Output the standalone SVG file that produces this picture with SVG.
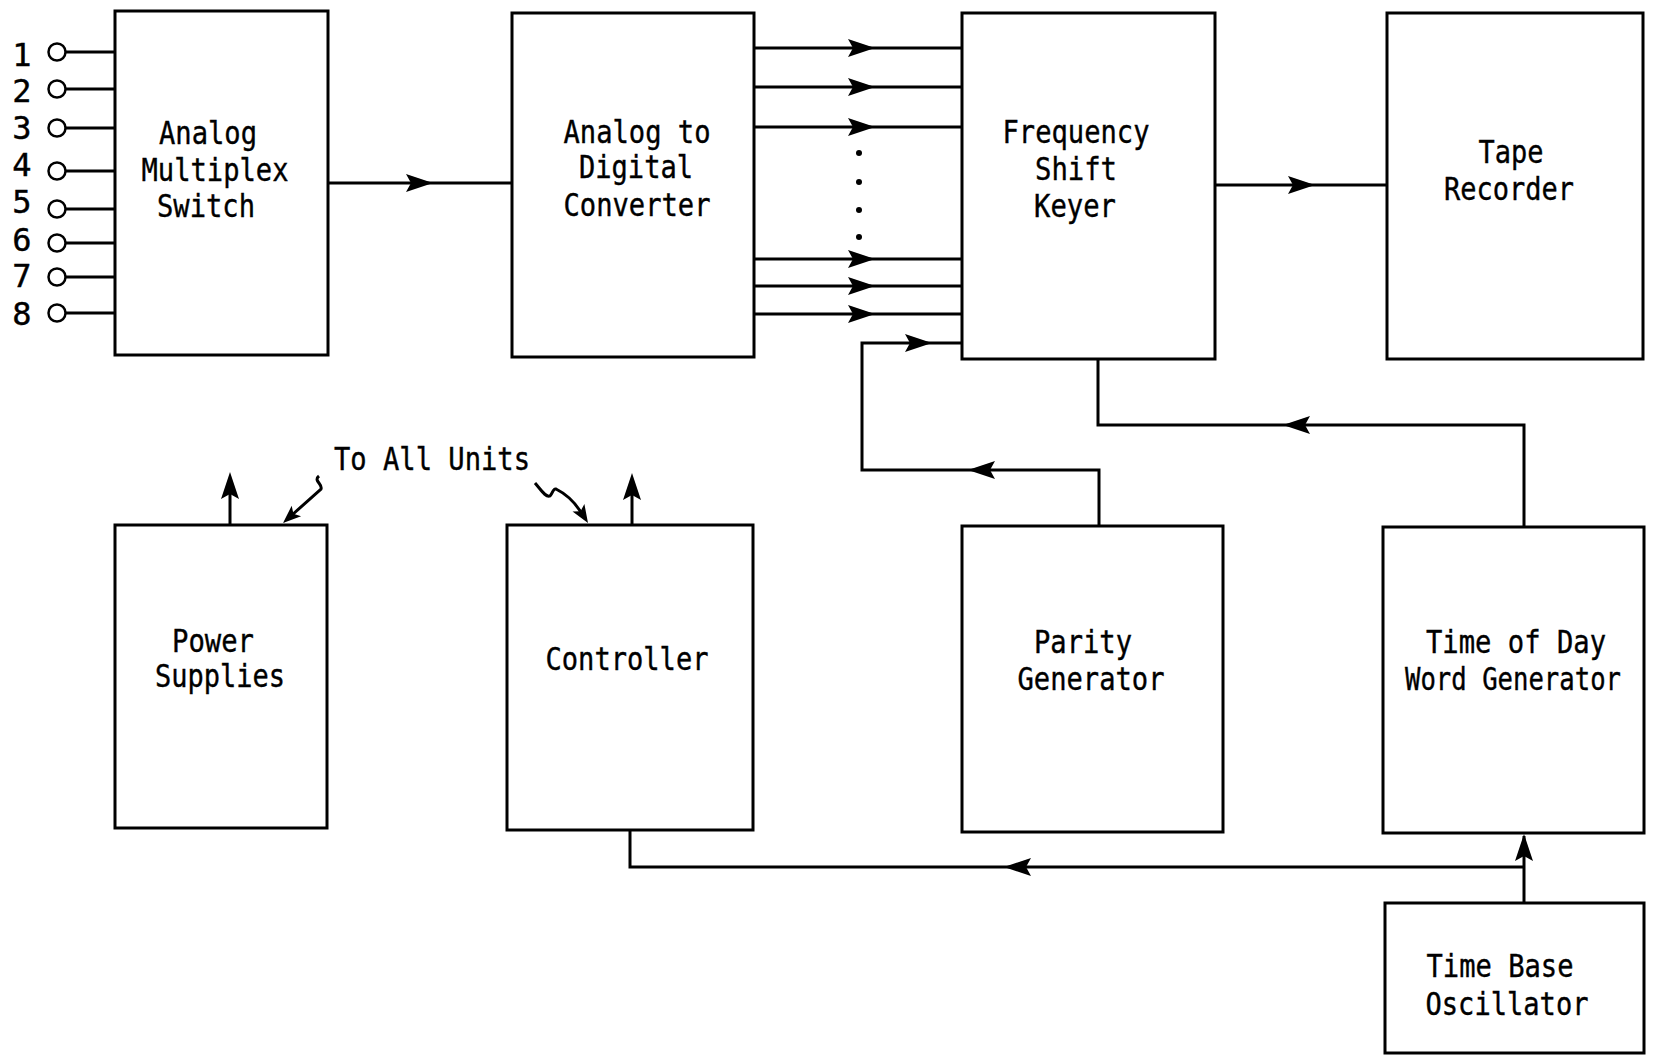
<svg xmlns="http://www.w3.org/2000/svg" xmlns:xlink="http://www.w3.org/1999/xlink" width="1653" height="1056" viewBox="0 0 1653 1056">
<style>
.box{fill:#fff;stroke:#000;stroke-width:3}
.ln{fill:none;stroke:#000;stroke-width:3}
.t{font-family:"DejaVu Sans Mono","Liberation Mono",monospace;font-size:32px;fill:#000;stroke:#000;stroke-width:0.4;text-anchor:middle}
.pin{fill:#fff;stroke:#000;stroke-width:2.5}
</style>
<defs>
<path id="ah" d="M0,0 L-27,-9 L-22,0 L-27,9 Z" fill="#000"/>
<path id="ahs" d="M0,0 L-18,-7 L-14,0 L-18,7 Z" fill="#000"/>
</defs>
<rect width="1653" height="1056" fill="#fff"/>

<g id="connectors">
  <!-- inputs -->
  <path class="ln" d="M65,52H115M65,89H115M65,128H115M65,171H115M65,209H115M65,243H115M65,277H115M65,313H115"/>
  <!-- AMS to ADC -->
  <path class="ln" d="M328,183H512"/>
  <use xlink:href="#ah" transform="translate(433,183)"/>
  <!-- ADC to FSK -->
  <path class="ln" d="M754,48H962M754,87H962M754,127H962M754,259H962M754,286H962M754,314H962"/>
  <use xlink:href="#ah" transform="translate(875,48)"/>
  <use xlink:href="#ah" transform="translate(875,87)"/>
  <use xlink:href="#ah" transform="translate(875,127)"/>
  <use xlink:href="#ah" transform="translate(875,259)"/>
  <use xlink:href="#ah" transform="translate(875,286)"/>
  <use xlink:href="#ah" transform="translate(875,314)"/>
  <circle cx="859" cy="153" r="3"/>
  <circle cx="859" cy="182" r="3"/>
  <circle cx="859" cy="210" r="3"/>
  <circle cx="859" cy="237" r="3"/>
  <!-- parity feedback -->
  <path class="ln" d="M1099,526V470H862V343H962"/>
  <use xlink:href="#ah" transform="translate(932,343)"/>
  <use xlink:href="#ah" transform="translate(968,470) rotate(180)"/>
  <!-- time of day to FSK -->
  <path class="ln" d="M1524,527V425H1098V359"/>
  <use xlink:href="#ah" transform="translate(1283,425) rotate(180)"/>
  <!-- FSK to tape -->
  <path class="ln" d="M1215,185H1387"/>
  <use xlink:href="#ah" transform="translate(1315,185)"/>
  <!-- time base -->
  <path class="ln" d="M1524,903V836"/>
  <use xlink:href="#ah" transform="translate(1524,834) rotate(-90)"/>
  <path class="ln" d="M1524,867H630V830"/>
  <use xlink:href="#ah" transform="translate(1004,867) rotate(180)"/>
  <!-- to all units -->
  <path class="ln" d="M230,525V478"/>
  <use xlink:href="#ah" transform="translate(230,472) rotate(-90)"/>
  <path class="ln" d="M632,525V479"/>
  <use xlink:href="#ah" transform="translate(632,473) rotate(-90)"/>
  <path class="ln" stroke-width="2.5" d="M319,476C313,481 323,484 321,489L292,515"/>
  <use xlink:href="#ahs" transform="translate(283,523) rotate(138)"/>
  <path class="ln" stroke-width="2.5" d="M535,483C541,490 546,498 550,496C553,493 553,488 556,489C566,494 575,502 582,514"/>
  <use xlink:href="#ahs" transform="translate(588,523) rotate(58)"/>
</g>

<g id="inputs">
  <circle class="pin" cx="57" cy="52" r="8.5"/>
  <circle class="pin" cx="57" cy="89" r="8.5"/>
  <circle class="pin" cx="57" cy="128" r="8.5"/>
  <circle class="pin" cx="57" cy="171" r="8.5"/>
  <circle class="pin" cx="57" cy="209" r="8.5"/>
  <circle class="pin" cx="57" cy="243" r="8.5"/>
  <circle class="pin" cx="57" cy="277" r="8.5"/>
  <circle class="pin" cx="57" cy="313" r="8.5"/>
  <text class="t" x="22" y="66">1</text>
  <text class="t" x="22" y="102">2</text>
  <text class="t" x="22" y="139">3</text>
  <text class="t" x="22" y="176">4</text>
  <text class="t" x="22" y="213">5</text>
  <text class="t" x="22" y="251">6</text>
  <text class="t" x="22" y="287">7</text>
  <text class="t" x="22" y="325">8</text>
</g>

<g id="analog-multiplex-switch">
  <rect class="box" x="115" y="11" width="213" height="344"/>
  <text class="t" x="208" y="144" textLength="98" lengthAdjust="spacingAndGlyphs">Analog</text>
  <text class="t" x="215" y="181" textLength="147" lengthAdjust="spacingAndGlyphs">Multiplex</text>
  <text class="t" x="206" y="217" textLength="98" lengthAdjust="spacingAndGlyphs">Switch</text>
</g>

<g id="adc">
  <rect class="box" x="512" y="13" width="242" height="344"/>
  <text class="t" x="637" y="143" textLength="147" lengthAdjust="spacingAndGlyphs">Analog to</text>
  <text class="t" x="636" y="178" textLength="114" lengthAdjust="spacingAndGlyphs">Digital</text>
  <text class="t" x="637" y="216" textLength="147" lengthAdjust="spacingAndGlyphs">Converter</text>
</g>

<g id="fsk">
  <rect class="box" x="962" y="13" width="253" height="346"/>
  <text class="t" x="1076" y="143" textLength="147" lengthAdjust="spacingAndGlyphs">Frequency</text>
  <text class="t" x="1076" y="180" textLength="82" lengthAdjust="spacingAndGlyphs">Shift</text>
  <text class="t" x="1075" y="217" textLength="82" lengthAdjust="spacingAndGlyphs">Keyer</text>
</g>

<g id="tape-recorder">
  <rect class="box" x="1387" y="13" width="256" height="346"/>
  <text class="t" x="1511" y="163" textLength="65" lengthAdjust="spacingAndGlyphs">Tape</text>
  <text class="t" x="1509" y="200" textLength="130" lengthAdjust="spacingAndGlyphs">Recorder</text>
</g>

<g id="to-all-units">
  <text class="t" x="432" y="470" textLength="196" lengthAdjust="spacingAndGlyphs">To All Units</text>
</g>

<g id="power-supplies">
  <rect class="box" x="115" y="525" width="212" height="303"/>
  <text class="t" x="213" y="652" textLength="82" lengthAdjust="spacingAndGlyphs">Power</text>
  <text class="t" x="220" y="687" textLength="130" lengthAdjust="spacingAndGlyphs">Supplies</text>
</g>

<g id="controller">
  <rect class="box" x="507" y="525" width="246" height="305"/>
  <text class="t" x="627" y="670" textLength="163" lengthAdjust="spacingAndGlyphs">Controller</text>
</g>

<g id="parity-generator">
  <rect class="box" x="962" y="526" width="261" height="306"/>
  <text class="t" x="1083" y="653" textLength="98" lengthAdjust="spacingAndGlyphs">Parity</text>
  <text class="t" x="1091" y="690" textLength="147" lengthAdjust="spacingAndGlyphs">Generator</text>
</g>

<g id="time-of-day">
  <rect class="box" x="1383" y="527" width="261" height="306"/>
  <text class="t" x="1516" y="653" textLength="180" lengthAdjust="spacingAndGlyphs">Time of Day</text>
  <text class="t" x="1513" y="690" font-size="27" textLength="216" lengthAdjust="spacingAndGlyphs">Word Generator</text>
</g>

<g id="time-base-oscillator">
  <rect class="box" x="1385" y="903" width="259" height="150"/>
  <text class="t" x="1500" y="977" textLength="147" lengthAdjust="spacingAndGlyphs">Time Base</text>
  <text class="t" x="1507" y="1015" textLength="163" lengthAdjust="spacingAndGlyphs">Oscillator</text>
</g>
</svg>
